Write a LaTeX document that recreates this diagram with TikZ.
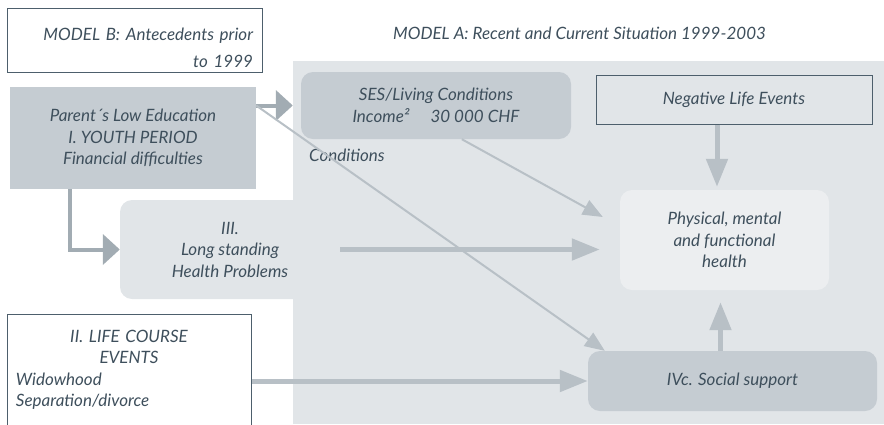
\documentclass[tikz,border=0pt]{standalone}
\usepackage{fontspec}
\setmainfont{Lato}
\usepackage{xcolor}
\usepackage{tikz}
\usetikzlibrary{positioning,arrows.meta}

\definecolor{ink}{HTML}{3E4F5C}
\definecolor{edge}{HTML}{4D5F6C}
\definecolor{panel}{HTML}{E1E5E8}
\definecolor{shade}{HTML}{C5CCD2}
\definecolor{pale}{HTML}{ECEEF0}
\definecolor{arrowdark}{HTML}{A2ACB3}
\definecolor{arrowlight}{HTML}{B8C0C6}

\begin{document}
\begin{tikzpicture}[x=1pt, y=-1pt,
  every node/.style={inner sep=0pt, text=ink, font=\itshape\fontsize{17}{21.5}\selectfont},
  plain/.style={draw=edge, line width=1pt},
  shaded/.style={fill=shade, rounded corners=12pt},
  boldarrow/.style={draw=arrowdark, line width=4pt, -{Triangle[length=17pt,width=30pt]}},
  softarrow/.style={draw=arrowlight, line width=5pt, -{Triangle[length=28pt,width=21pt]}},
  thinarrow/.style={draw=arrowlight, line width=2pt, -{Triangle[length=20pt,width=16pt]}}]
  \useasboundingbox (0,0) rectangle (884,424);
  \fill[panel] (293,61) rectangle (884,424);

  \node[plain, fill=white, minimum width=255pt, minimum height=64pt, text width=237pt, align=right] (modelb) at (134.5,40)
    {\rule{0pt}{29pt}MODEL B: Antecedents prior\\[5.5pt]to 1999};
  \node (modela) at (579.5,33) {MODEL A: Recent and Current Situation 1999-2003};

  \node[fill=shade, minimum width=246pt, minimum height=102pt, align=center] (parent) at (133,138)
    {Parent´s Low Education\\I. YOUTH PERIOD\\Financial difficulties};
  \node[shaded, minimum width=270pt, minimum height=67pt, align=center] (ses) at (436,105.5)
    {SES/Living Conditions\\Income² \quad 30 000 CHF};
  \node[anchor=west] (cond) at (309,155) {Conditions};
  \node[plain, fill=panel, minimum width=276pt, minimum height=49pt] (neg) at (734,99.5) {Negative Life Events};
  \node[fill=panel, rounded corners=12pt, minimum width=220pt, minimum height=99pt, align=center] (iii) at (230,249.5)
    {III.\\Long standing\\Health Problems};
  \node[fill=pale, rounded corners=12pt, minimum width=209pt, minimum height=100pt, align=center] (phys) at (724.5,240)
    {Physical, mental\\and functional\\health};
  \node[plain, fill=white, minimum width=244pt, minimum height=112pt, text width=226pt, align=center] (life) at (129,370)
    {II. LIFE COURSE\\EVENTS\\\makebox[226pt][l]{Widowhood}\\\makebox[226pt][l]{Separation/divorce}};
  \node[shaded, minimum width=289pt, minimum height=60pt] (social) at (732.5,381) {IVc. Social support};

  \draw[boldarrow, shorten >=8pt] (parent.east |- ses.west) -- (ses.west);
  \draw[boldarrow] ([xshift=60pt]parent.south west) |- (iii.west);
  \draw[thinarrow] (parent.east |- ses.west) -- ([xshift=17pt]social.north west);
  \draw[thinarrow] ([xshift=161pt]ses.south west) -- ([shift={(-17,-23)}]phys.west);
  \draw[softarrow, shorten >=20pt] (iii.east) -- (iii.east -| phys.west);
  \draw[softarrow, shorten >=3pt] ([xshift=-17pt]neg.south) -- ([xshift=-17pt]neg.south |- phys.north);
  \draw[softarrow, shorten >=12pt] ([xshift=-12pt]social.north) -- ([xshift=-12pt]social.north |- phys.south);
  \draw[softarrow] (life.east |- social.west) -- (social.west);
\end{tikzpicture}
\end{document}
